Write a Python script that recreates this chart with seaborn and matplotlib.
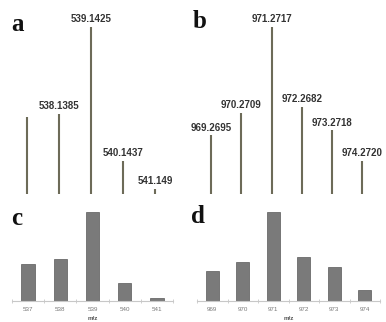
import numpy as np
import matplotlib
matplotlib.use('Agg')
import matplotlib.pyplot as plt
import seaborn as sns

# данные
a_pos = [537, 538, 539, 540, 541]
a_int = [46, 48, 100, 20, 3]
a_lab = ['', '538.1385', '539.1425', '540.1437', '541.149']

b_pos = [969, 970, 971, 972, 973, 974]
b_int = [35, 48.5, 100, 52, 38, 20]
b_lab = ['969.2695', '970.2709', '971.2717', '972.2682', '973.2718', '974.2720']

c_mz = ['537', '538', '539', '540', '541']
c_int = [42, 47, 100, 20, 3]

d_mz = ['969', '970', '971', '972', '973', '974']
d_int = [34, 44, 100, 49, 38, 12]

sns.set_theme(style='white')
plt.rcParams['font.family'] = ['Liberation Sans', 'DejaVu Sans']

W, H = 386, 322
fig = plt.figure(figsize=(W / 100, H / 100), dpi=100)


def px_axes(x0, y0, x1, y1):
    # координаты в пикселях (сверху вниз)
    return fig.add_axes([x0 / W, 1 - y1 / H, (x1 - x0) / W, (y1 - y0) / H])


line_col = '#6d6b58'
bar_col = '#7a7a7a'


def stick_panel(ax, pos, inten, labels, xlim):
    ax.vlines(pos, 0, inten, color=line_col, lw=1.5)
    for p, v, t in zip(pos, inten, labels):
        if t:
            ax.annotate(t, (p, v), xytext=(0, 2), textcoords='offset points',
                        ha='center', va='bottom', fontsize=7, fontweight='bold',
                        color='#333333')
    ax.set_xlim(*xlim)
    ax.set_ylim(-3.6, 116)
    ax.axis('off')


ax_a = px_axes(0, 0, 193, 200)
stick_panel(ax_a, a_pos, a_int, a_lab, (536.16, 542.19))
ax_b = px_axes(193, 0, 386, 200)
stick_panel(ax_b, b_pos, b_int, b_lab, (968.40, 974.79))


def bar_panel(ax, mz, inten):
    sns.barplot(x=mz, y=inten, ax=ax, color=bar_col, saturation=1, width=0.42,
                edgecolor='#5a5a5a', linewidth=0.5)
    n = len(mz)
    ax.set_xlim(-0.5, n - 0.5)
    ax.set_ylim(0, 108)
    for s in ['top', 'right', 'left']:
        ax.spines[s].set_visible(False)
    ax.spines['bottom'].set_color('#c8c8c8')
    ax.spines['bottom'].set_linewidth(0.8)
    ax.set_yticks([])
    ax.set_xticks(np.arange(-0.5, n), minor=True)
    ax.tick_params(axis='x', which='major', length=0, labelsize=4.5,
                   labelcolor='#777777', pad=4)
    ax.tick_params(axis='x', which='minor', length=3, direction='inout',
                   color='#c8c8c8', width=0.6, bottom=True)
    ax.set_xlabel('m/z', fontsize=4.5, color='#555555', fontweight='bold',
                  labelpad=3)


ax_c = px_axes(12, 205, 173, 301)
bar_panel(ax_c, c_mz, c_int)
ax_d = px_axes(197, 205, 380, 301)
bar_panel(ax_d, d_mz, d_int)

# буквы панелей
letter_kw = dict(family=['Liberation Serif', 'DejaVu Serif'], fontweight='bold',
                 fontsize=18, ha='center', va='baseline', color='#111111')
fig.text(17 / W, 1 - 31 / H, 'a', **letter_kw)
fig.text(200 / W, 1 - 28 / H, 'b', **letter_kw)
fig.text(17 / W, 1 - 225 / H, 'c', **letter_kw)
fig.text(198 / W, 1 - 223 / H, 'd', **letter_kw)

fig.savefig('out.png', dpi=100)
